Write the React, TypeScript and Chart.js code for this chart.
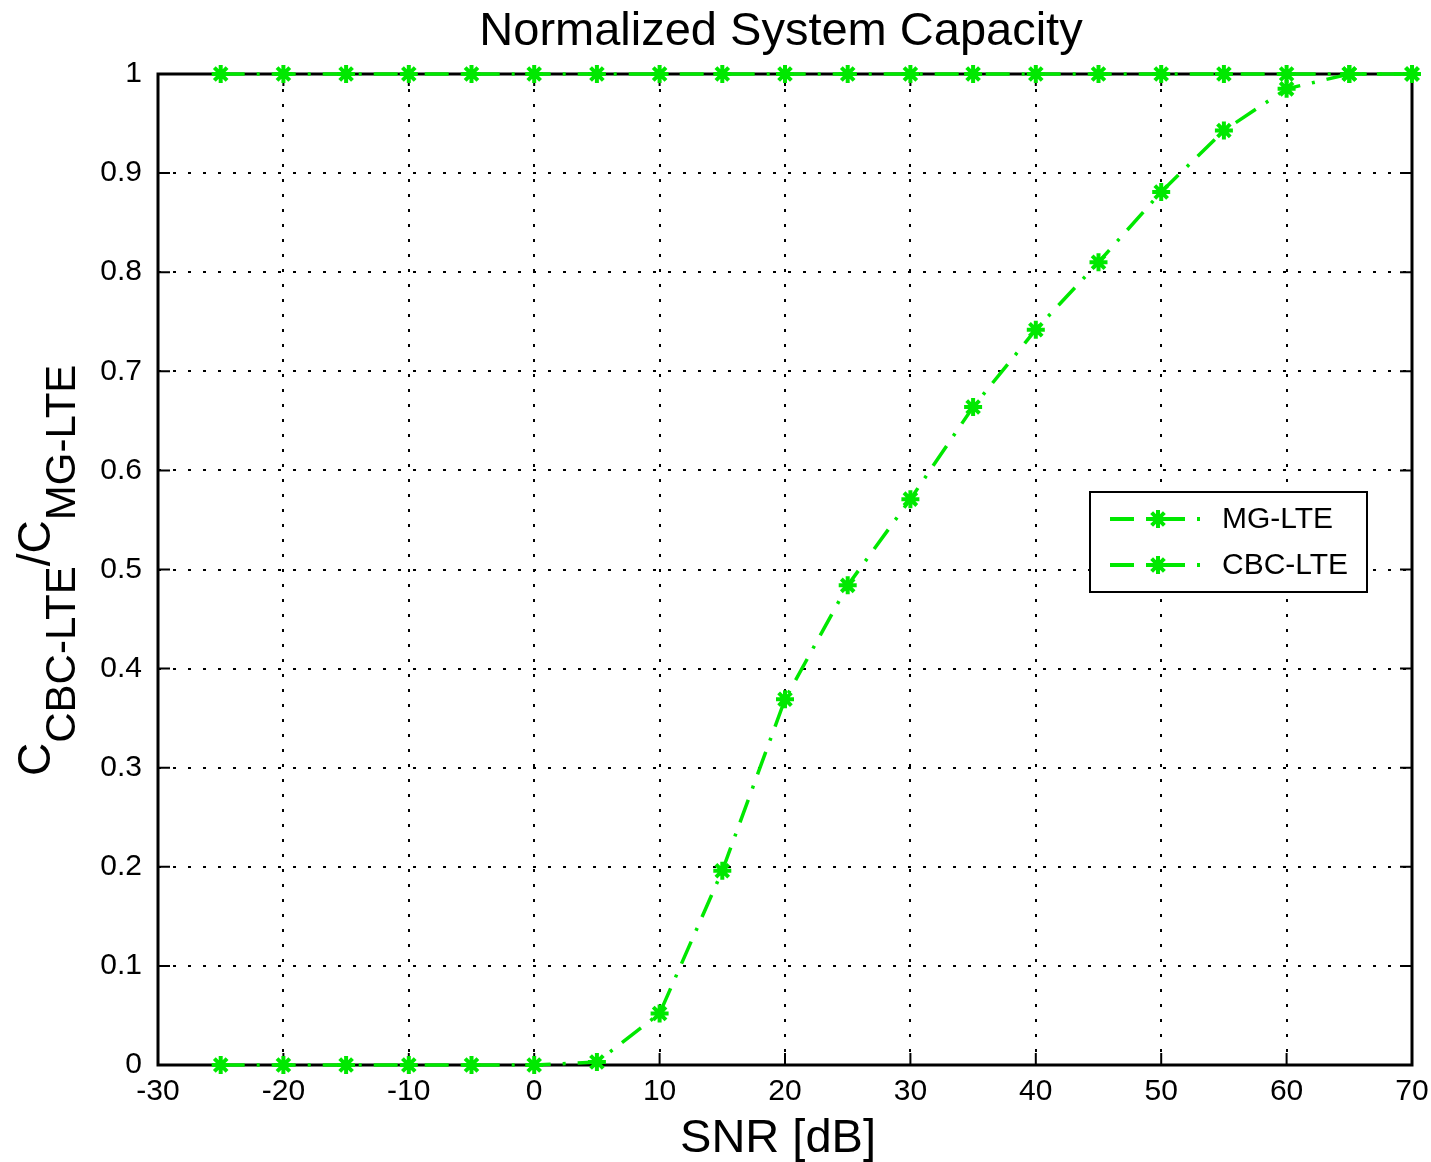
import { useEffect, useRef } from "react";
import { Chart, registerables } from "chart.js";

Chart.register(...registerables);

const snrDb = [-25, -20, -15, -10, -5, 0, 5, 10, 15, 20, 25, 30, 35, 40, 45, 50, 55, 60, 65, 70];
const mgLte = [1, 1, 1, 1, 1, 1, 1, 1, 1, 1, 1, 1, 1, 1, 1, 1, 1, 1, 1, 1];
const cbcLte = [0, 0, 0, 0, 0, 0, 0.003, 0.052, 0.196, 0.369, 0.484, 0.571, 0.664, 0.742, 0.81, 0.881, 0.943, 0.985, 1, 1];
const xTicks = [-30, -20, -10, 0, 10, 20, 30, 40, 50, 60, 70];
const yTicks = [0, 0.1, 0.2, 0.3, 0.4, 0.5, 0.6, 0.7, 0.8, 0.9, 1];
const seriesNames = ["MG-LTE", "CBC-LTE"];
const titleText = "Normalized System Capacity";
const xTitle = "SNR [dB]";
const yTitleParts = [
  { text: "C", sub: false },
  { text: "CBC-LTE", sub: true },
  { text: "/", sub: false },
  { text: "C", sub: false },
  { text: "MG-LTE", sub: true },
];

const FONT = "'Liberation Sans', Arial, Helvetica, sans-serif";
const GREEN = "rgb(0, 232, 0)";
const DASH = [24, 12, 3, 12];

const matlabPlugin = {
  id: "matlabLook",
  beforeDraw(chart: any) {
    const ctx = chart.ctx;
    ctx.save();
    ctx.fillStyle = "#ffffff";
    ctx.fillRect(0, 0, chart.width, chart.height);
    ctx.restore();
  },
  beforeDatasetsDraw(chart: any) {
    const ctx = chart.ctx;
    const { left, right, top, bottom } = chart.chartArea;
    const xs = chart.scales.x;
    const ys = chart.scales.y;
    const tick = 12;
    ctx.save();
    ctx.strokeStyle = "#000";
    ctx.lineWidth = 2;
    ctx.beginPath();
    xTicks.forEach((v) => {
      const px = xs.getPixelForValue(v);
      ctx.moveTo(px, bottom);
      ctx.lineTo(px, bottom - tick);
      ctx.moveTo(px, top);
      ctx.lineTo(px, top + tick);
    });
    yTicks.forEach((v) => {
      const py = ys.getPixelForValue(v);
      ctx.moveTo(left, py);
      ctx.lineTo(left + tick, py);
      ctx.moveTo(right, py);
      ctx.lineTo(right - tick, py);
    });
    ctx.stroke();
    ctx.lineWidth = 3;
    ctx.strokeRect(left, top, right - left, bottom - top);
    ctx.restore();
  },
  afterDraw(chart: any) {
    const ctx = chart.ctx;
    ctx.save();
    ctx.fillStyle = "#000";
    ctx.textBaseline = "alphabetic";
    // title
    ctx.font = `47px ${FONT}`;
    ctx.textAlign = "center";
    ctx.fillText(titleText, 781, 45);
    // x label
    ctx.font = `47px ${FONT}`;
    ctx.fillText(xTitle, 778, 1152);
    // y label with subscripts
    ctx.save();
    ctx.translate(50, 776);
    ctx.rotate(-Math.PI / 2);
    ctx.textAlign = "left";
    let pos = 0;
    yTitleParts.forEach((p) => {
      ctx.font = p.sub ? `42px ${FONT}` : `46px ${FONT}`;
      ctx.fillText(p.text, pos, p.sub ? 25 : 0);
      pos += ctx.measureText(p.text).width;
    });
    ctx.restore();

    // legend
    const bx = 1090, by = 492, bw = 277, bh = 100;
    ctx.fillStyle = "#fff";
    ctx.fillRect(bx, by, bw, bh);
    ctx.strokeStyle = "#000";
    ctx.lineWidth = 2;
    ctx.strokeRect(bx, by, bw, bh);
    const rows = [519, 565];
    chart.data.datasets.forEach((ds: any, i: number) => {
      const y = rows[i];
      ctx.save();
      ctx.strokeStyle = ds.borderColor;
      ctx.lineWidth = 4;
      ctx.setLineDash(DASH);
      ctx.beginPath();
      ctx.moveTo(1110, y);
      ctx.lineTo(1207, y);
      ctx.stroke();
      ctx.setLineDash([]);
      ctx.lineWidth = ds.pointBorderWidth;
      const r = ds.pointRadius;
      ctx.beginPath();
      for (let k = 0; k < 4; k++) {
        const a = (k * Math.PI) / 4;
        ctx.moveTo(1158 - r * Math.cos(a), y - r * Math.sin(a));
        ctx.lineTo(1158 + r * Math.cos(a), y + r * Math.sin(a));
      }
      ctx.stroke();
      ctx.restore();
      ctx.fillStyle = "#000";
      ctx.font = `30px ${FONT}`;
      ctx.textAlign = "left";
      ctx.textBaseline = "middle";
      ctx.fillText(ds.label, 1222, y + 1);
    });
    ctx.restore();
  },
};

export default function App() {
  const ref = useRef<HTMLCanvasElement | null>(null);
  useEffect(() => {
    if (!ref.current) return;
    const mkDs = (label: string, data: number[]) => ({
      label,
      data: snrDb.map((x, i) => ({ x, y: data[i] })),
      borderColor: GREEN,
      backgroundColor: GREEN,
      borderWidth: 3.5,
      borderDash: DASH,
      pointStyle: "star",
      pointRadius: 9,
      pointBorderWidth: 4,
      pointBorderColor: GREEN,
      pointBackgroundColor: GREEN,
      tension: 0,
      clip: false as any,
    });
    const chart = new Chart(ref.current, {
      type: "line",
      data: {
        datasets: [mkDs(seriesNames[0], mgLte), mkDs(seriesNames[1], cbcLte)],
      },
      plugins: [matlabPlugin],
      options: {
        animation: false,
        responsive: false,
        layout: { padding: { left: 0, top: 74, right: 19, bottom: 0 } },
        plugins: {
          legend: { display: false },
          title: { display: false },
          tooltip: { enabled: false },
        },
        scales: {
          x: {
            type: "linear",
            min: -30,
            max: 70,
            afterBuildTicks: (s: any) => {
              s.ticks = xTicks.map((v) => ({ value: v }));
            },
            afterFit: (s: any) => {
              s.height = 97;
              s.paddingLeft = 0;
              s.paddingRight = 0;
            },
            ticks: {
              color: "#000",
              font: { family: FONT, size: 30 },
              padding: 9,
              maxRotation: 0,
              autoSkip: false,
              callback: (v: any) => String(v),
            },
            grid: { color: "#000", lineWidth: 2, drawTicks: false },
            border: { display: false, dash: [3, 12] },
          },
          y: {
            type: "linear",
            min: 0,
            max: 1,
            afterBuildTicks: (s: any) => {
              s.ticks = yTicks.map((v) => ({ value: v }));
            },
            afterFit: (s: any) => {
              s.width = 158;
              s.paddingTop = 0;
              s.paddingBottom = 0;
            },
            ticks: {
              color: "#000",
              font: { family: FONT, size: 30 },
              padding: 16,
              autoSkip: false,
              callback: (v: any) => String(Math.round(Number(v) * 10) / 10),
            },
            grid: { color: "#000", lineWidth: 2, drawTicks: false },
            border: { display: false, dash: [3, 12] },
          },
        },
      },
    });
    return () => chart.destroy();
  }, []);
  return (
    <div style={{ position: "fixed", left: 0, top: 0, width: 1431, height: 1162, background: "#fff" }}>
      <canvas ref={ref} width={1431} height={1162} style={{ display: "block", width: 1431, height: 1162 }} />
    </div>
  );
}
